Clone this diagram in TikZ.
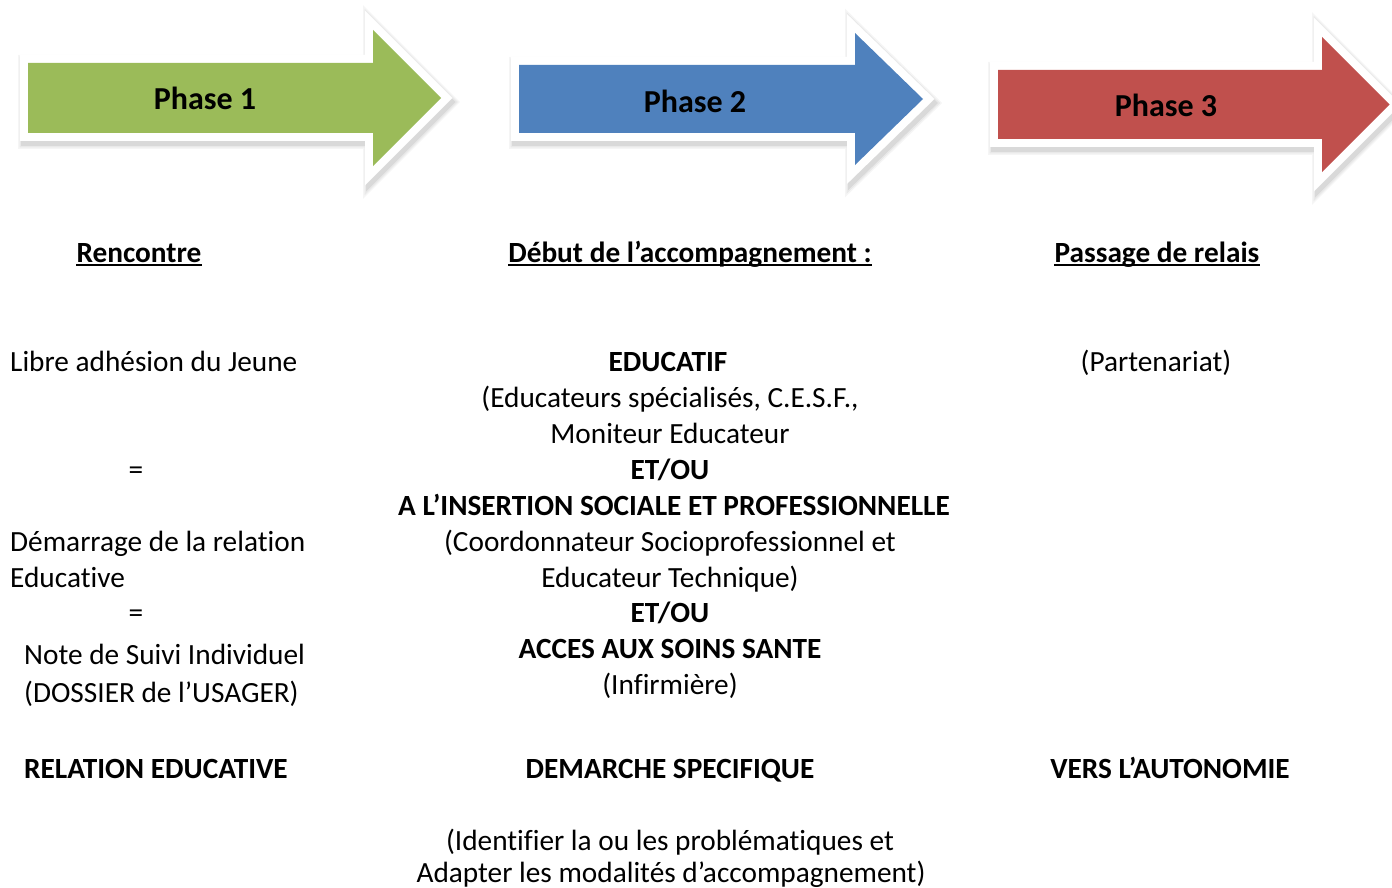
\documentclass[tikz,border=0pt]{standalone}
\usepackage{fontspec}
\setmainfont{Carlito}[Ligatures=NoCommon]
\begin{document}
\begin{tikzpicture}[x=1pt,y=-1pt,
  txt/.style={inner sep=0pt, font=\fontsize{29.3}{36}\selectfont},
  btxt/.style={txt, font=\fontsize{29.3}{36}\selectfont\bfseries},
  phase/.style={inner sep=0pt, font=\fontsize{32}{38}\selectfont\bfseries},
  uline/.style={line width=2pt, draw=black},
  arrowwhite/.style={fill=white, draw=white, line width=16pt, line join=miter, miter limit=10},
]
\definecolor{pgreen}{HTML}{9BBB59}
\definecolor{pblue}{HTML}{4F81BD}
\definecolor{pred}{HTML}{C0504D}
\useasboundingbox (0,0) rectangle (1392,888);
\clip (0,0) rectangle (1392,888);
\newcommand\drawphasearrow[8]{%
  \pgfmathsetmacro\tipy{(#6+#7)/2}%
  \foreach \w/\o in {24/0.04,21/0.05,18/0.07}{%
    \path[draw=black, fill=black, opacity=\o, line width=\w pt, line join=miter, miter limit=10, shift={(2,4)}]
      (#2,#3) -- (#5,#3) -- (#5,#6) -- (#8,\tipy) -- (#5,#7) -- (#5,#4) -- (#2,#4) -- cycle;}%
  \path[arrowwhite] (#2,#3) -- (#5,#3) -- (#5,#6) -- (#8,\tipy) -- (#5,#7) -- (#5,#4) -- (#2,#4) -- cycle;
  \fill[#1] (#2,#3) -- (#5,#3) -- (#5,#6) -- (#8,\tipy) -- (#5,#7) -- (#5,#4) -- (#2,#4) -- cycle;
}
\drawphasearrow{pgreen}{28}{63}{133}{373}{30}{166}{441}
\drawphasearrow{pblue}{519}{65}{133}{855}{33}{165}{923}
\drawphasearrow{pred}{998}{70}{139}{1322}{37}{172}{1389.5}

\node[phase, anchor=base] (p1) at (205,110) {Phase 1};
\node[phase, anchor=base] (p2) at (695,113) {Phase 2};
\node[phase, anchor=base] (p3) at (1166,117) {Phase 3};

% headings
\node[btxt, anchor=base] (h1) at (139,262) {Rencontre};
\node[btxt, anchor=base] (h2) at (690,262) {Début de l’accompagnement :};
\node[btxt, anchor=base] (h3) at (1157,262) {Passage de relais};
\draw[uline] ([yshift=-3pt]h1.base west) -- ([yshift=-3pt]h1.base east);
\draw[uline] ([yshift=-3pt]h2.base west) -- ([yshift=-3pt]h2.base east);
\draw[uline] ([yshift=-3pt]h3.base west) -- ([yshift=-3pt]h3.base east);

% left column
\node[txt, anchor=base west] (l1) at (10,371) {Libre adhésion du Jeune};
\node[txt, anchor=base] (l2) at (136,479) {=};
\node[txt, anchor=base west] (l3) at (10,551) {Démarrage de la relation};
\node[txt, anchor=base west] (l4) at (10,587) {Educative};
\node[txt, anchor=base] (l5) at (136,622) {=};
\node[txt, anchor=base west] (l6) at (24,664) {Note de Suivi Individuel};
\node[txt, anchor=base west] (l7) at (24,702) {(DOSSIER de l’USAGER)};
\node[btxt, anchor=base west] (l8) at (24,778) {RELATION EDUCATIVE};

% middle column
\node[btxt, anchor=base] (m1) at (668,371) {EDUCATIF};
\node[txt, anchor=base] (m2) at (670,407) {(Educateurs spécialisés, C.E.S.F.,};
\node[txt, anchor=base] (m3) at (670,443) {Moniteur Educateur};
\node[btxt, anchor=base] (m4) at (670,479) {ET/OU};
\node[btxt, anchor=base] (m5) at (674,515) {A L’INSERTION SOCIALE ET PROFESSIONNELLE};
\node[txt, anchor=base] (m6) at (670,551) {(Coordonnateur Socioprofessionnel et};
\node[txt, anchor=base] (m7) at (670,587) {Educateur Technique)};
\node[btxt, anchor=base] (m8) at (670,622) {ET/OU};
\node[btxt, anchor=base] (m9) at (670,658) {ACCES AUX SOINS SANTE};
\node[txt, anchor=base] (m10) at (670,694) {(Infirmière)};
\node[btxt, anchor=base] (m11) at (670,778) {DEMARCHE SPECIFIQUE};
\node[txt, anchor=base] (m12) at (670,850) {(Identifier la ou les problématiques et};
\node[txt, anchor=base] (m13) at (671,882) {Adapter les modalités d’accompagnement)};

% right column
\node[txt, anchor=base] (r1) at (1156,371) {(Partenariat)};
\node[btxt, anchor=base] (r2) at (1170,778) {VERS L’AUTONOMIE};
\end{tikzpicture}
\end{document}
